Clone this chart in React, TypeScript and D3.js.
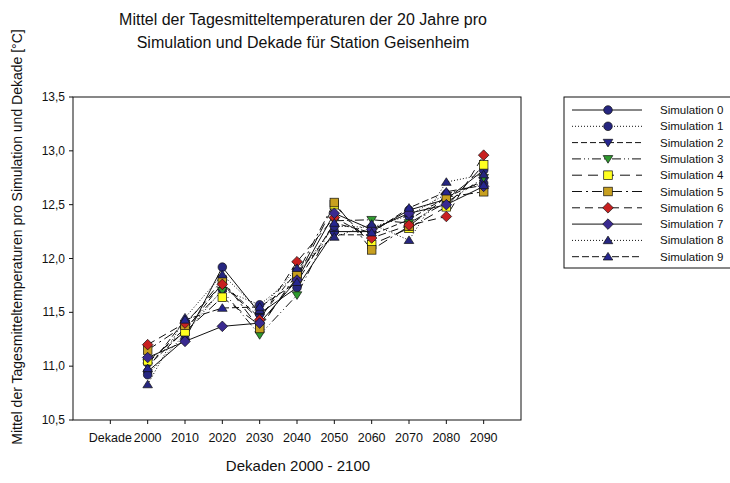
import React from "react";
import * as d3 from "d3";

const categories = ["Dekade", "2000", "2010", "2020", "2030", "2040", "2050", "2060", "2070", "2080", "2090"];
const decades = ["2000", "2010", "2020", "2030", "2040", "2050", "2060", "2070", "2080", "2090"];
const yTicks = [10.5, 11.0, 11.5, 12.0, 12.5, 13.0, 13.5];
const seriesNames = ["Simulation 0", "Simulation 1", "Simulation 2", "Simulation 3", "Simulation 4", "Simulation 5", "Simulation 6", "Simulation 7", "Simulation 8", "Simulation 9"];

const sim0 = [10.95, 11.25, 11.92, 11.49, 11.73, 12.25, 12.25, 12.45, 12.55, 12.82];
const sim1 = [10.92, 11.30, 11.71, 11.57, 11.85, 12.30, 12.29, 12.40, 12.60, 12.70];
const sim2 = [11.00, 11.33, 11.77, 11.45, 11.88, 12.22, 12.22, 12.36, 12.57, 12.72];
const sim3 = [11.03, 11.35, 11.70, 11.29, 11.66, 12.35, 12.36, 12.33, 12.52, 12.75];
const sim4 = [11.05, 11.32, 11.64, 11.38, 11.82, 12.50, 12.13, 12.28, 12.48, 12.87];
const sim5 = [11.15, 11.38, 11.80, 11.35, 11.86, 12.52, 12.08, 12.30, 12.57, 12.62];
const sim6 = [11.20, 11.40, 11.76, 11.43, 11.97, 12.38, 12.19, 12.31, 12.39, 12.96];
const sim7 = [11.08, 11.23, 11.37, 11.40, 11.80, 12.42, 12.27, 12.42, 12.50, 12.67];
const sim8 = [10.83, 11.45, 11.85, 11.52, 11.91, 12.20, 12.32, 12.17, 12.71, 12.78];
const sim9 = [10.98, 11.43, 11.54, 11.55, 11.78, 12.33, 12.24, 12.47, 12.62, 12.68];
const allSeries = [sim0, sim1, sim2, sim3, sim4, sim5, sim6, sim7, sim8, sim9];

const markerShapes = ["circle", "circle", "tridown", "tridown", "square", "square", "diamond", "diamond", "triup", "triup"];
const markerFills = ["#262680", "#262680", "#262690", "#2e9a2e", "#ffff20", "#c8a020", "#c82020", "#3a2a90", "#262680", "#262690"];
const dashes = ["", "1,2", "6,3", "9,3,1,3,1,3", "10,6", "10,4,2,4", "8,5", "", "1,2", "7,3"];

const W = 730, H = 483;
const plot = { left: 73, right: 521, top: 97, bottom: 420 };

function Marker({ shape, x, y, fill }: { shape: string; x: number; y: number; fill: string }) {
  const s = 4.3;
  const common = { fill, stroke: "#111", strokeWidth: 0.7 };
  if (shape === "circle") return <circle cx={x} cy={y} r={s} {...common} />;
  if (shape === "square") return <rect x={x - s} y={y - s} width={2 * s} height={2 * s} {...common} />;
  if (shape === "diamond") return <path d={`M${x},${y - s - 1}L${x + s + 1},${y}L${x},${y + s + 1}L${x - s - 1},${y}Z`} {...common} />;
  if (shape === "tridown") return <path d={`M${x - s - 0.5},${y - s + 1}L${x + s + 0.5},${y - s + 1}L${x},${y + s}Z`} {...common} />;
  return <path d={`M${x},${y - s}L${x + s + 0.5},${y + s - 1}L${x - s - 0.5},${y + s - 1}Z`} {...common} />;
}

export default function App() {
  const x = d3.scalePoint<string>().domain(["_l", ...categories, "_r"]).range([plot.left, plot.right]);
  const y = d3.scaleLinear().domain([10.5, 13.5]).range([plot.bottom, plot.top]);
  const line = d3.line<number>().x((_, i) => x(decades[i]) as number).y((d) => y(d));
  const font = "Liberation Sans, Arial, sans-serif";
  const legendY0 = 110, legendStep = 16.3;

  return (
    <svg width={W} height={H} style={{ position: "absolute", left: 0, top: 0, background: "#fff" }} fontFamily={font}>
      <rect width={W} height={H} fill="#fff" />
      <text x={303} y={25} textAnchor="middle" fontSize={16} fill="#111">Mittel der Tagesmitteltemperaturen der 20 Jahre pro</text>
      <text x={303} y={48} textAnchor="middle" fontSize={16} fill="#111">Simulation und Dekade für Station Geisenheim</text>

      <text transform={`translate(22,237) rotate(-90)`} textAnchor="middle" fontSize={14} fill="#111">
        Mittel der Tagesmitteltemperaturen pro Simulation und Dekade [°C]
      </text>
      <text x={298} y={471} textAnchor="middle" fontSize={15} fill="#111">Dekaden 2000 - 2100</text>

      <rect x={plot.left} y={plot.top} width={plot.right - plot.left} height={plot.bottom - plot.top} fill="none" stroke="#111" strokeWidth={1} />

      {yTicks.map((t) => (
        <g key={t}>
          <line x1={plot.left - 4} x2={plot.left} y1={y(t)} y2={y(t)} stroke="#111" />
          <text x={plot.left - 8} y={y(t) + 4} textAnchor="end" fontSize={12} fill="#111">
            {d3.format(".1f")(t).replace(".", ",")}
          </text>
        </g>
      ))}
      {categories.map((c) => (
        <g key={c}>
          <line x1={x(c)} x2={x(c)} y1={plot.bottom} y2={plot.bottom + 4} stroke="#111" />
          <text x={x(c)} y={plot.bottom + 22} textAnchor="middle" fontSize={12.5} fill="#111">{c}</text>
        </g>
      ))}

      {allSeries.map((s, k) => (
        <path key={"l" + k} d={line(s) || ""} fill="none" stroke="#111" strokeWidth={1} strokeDasharray={dashes[k]} />
      ))}
      {allSeries.map((s, k) => (
        <g key={"m" + k}>
          {s.map((v, i) => (
            <Marker key={i} shape={markerShapes[k]} x={x(decades[i]) as number} y={y(v)} fill={markerFills[k]} />
          ))}
        </g>
      ))}

      <rect x={564} y={97} width={175} height={171} fill="#fff" stroke="#111" strokeWidth={1} />
      {seriesNames.map((n, k) => {
        const ly = legendY0 + k * legendStep;
        return (
          <g key={n}>
            <line x1={572} x2={642} y1={ly} y2={ly} stroke="#111" strokeWidth={1} strokeDasharray={dashes[k]} />
            <Marker shape={markerShapes[k]} x={608} y={ly} fill={markerFills[k]} />
            <text x={660} y={ly + 4} fontSize={11.5} fill="#111">{n}</text>
          </g>
        );
      })}
    </svg>
  );
}
